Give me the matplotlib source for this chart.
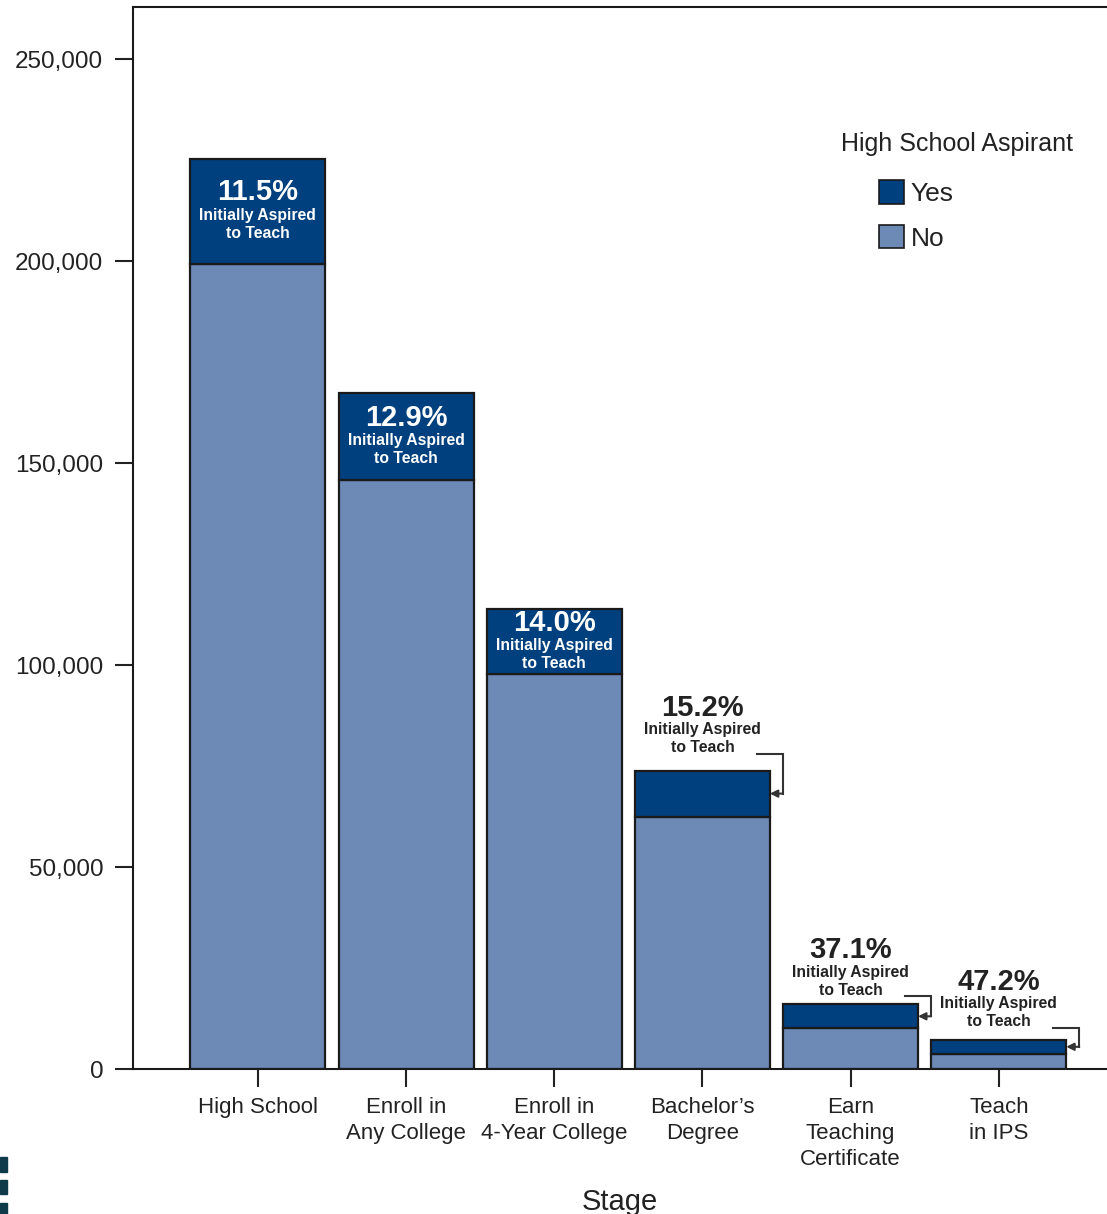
import numpy as np
import matplotlib
matplotlib.use("Agg")
import matplotlib.pyplot as plt
from matplotlib.patches import Patch, Rectangle

plt.rcParams['font.family'] = ['Liberation Sans', 'DejaVu Sans']

# -----------------------------
# Data
stages = ['High School', 'Enroll in\nAny College', 'Enroll in\n4-Year College',
          'Bachelor\u2019s\nDegree', 'Earn\nTeaching\nCertificate', 'Teach\nin IPS']
no_counts = [199400, 145800, 97700, 62500, 10100, 3800]    # did not aspire to teach
yes_counts = [26000, 21600, 16300, 11400, 5900, 3400]      # initially aspired to teach
pct_labels = ['11.5%', '12.9%', '14.0%', '15.2%', '37.1%', '47.2%']
y_ticks = [0, 50000, 100000, 150000, 200000, 250000]

# -----------------------------
# Styles
dark = '#00407e'
light = '#6d8ab7'
edge = '#1a1a1a'
txt = '#222222'
inside = [True, True, True, False, False, False]   # label inside the dark segment?
lift = [0, 0, 0, 63, 54, 58]                       # px above bar top for outside labels

W, H = 1107, 1214
fig = plt.figure(figsize=(W / 100, H / 100), dpi=100)
ax = fig.add_axes([133 / W, 145 / H, 974 / W, 1062 / H])

x = np.arange(len(stages))
bw = 0.91
ax.bar(x, no_counts, width=bw, color=light, edgecolor=edge, linewidth=1.6, zorder=2)
ax.bar(x, yes_counts, bottom=no_counts, width=bw, color=dark, edgecolor=edge,
       linewidth=1.6, zorder=2)

ax.set_xlim(-0.843, 5.73)
ax.set_ylim(0, 263000)

ax.set_yticks(y_ticks)
ax.set_yticklabels([f'{v:,}' for v in y_ticks])
ax.set_xticks(x)
ax.set_xticklabels(stages)
ax.tick_params(axis='y', length=13, width=1.5, pad=8.5, labelsize=17.5, colors=txt)
ax.tick_params(axis='x', length=13, width=1.5, pad=7, labelsize=16, colors=txt)
for lbl in ax.get_xticklabels():
    lbl.set_linespacing(1.33)
ax.set_xlabel('Stage', fontsize=21, color=txt, labelpad=13)

for s in ['left', 'bottom', 'top']:
    ax.spines[s].set_linewidth(1.5)
    ax.spines[s].set_color('#1a1a1a')
ax.spines['right'].set_visible(False)

# -----------------------------
# Percentage labels
to_data = ax.transData.inverted()
for i in range(len(stages)):
    top = no_counts[i] + yes_counts[i]
    mid = no_counts[i] + yes_counts[i] / 2
    if inside[i]:
        col = 'white'
        anchor = (i, mid)
        offs = [19, -4, -22]
    else:
        col = txt
        anchor = (i, top)
        offs = [lift[i], lift[i] - 22, lift[i] - 40]
    ax.annotate(pct_labels[i], xy=anchor, xytext=(0, offs[0]), textcoords='offset pixels',
                ha='center', va='center', fontsize=21, fontweight='bold', color=col)
    ax.annotate('Initially Aspired', xy=anchor, xytext=(0, offs[1]),
                textcoords='offset pixels', ha='center', va='center', fontsize=11.3,
                fontweight='bold', color=col)
    ax.annotate('to Teach', xy=anchor, xytext=(0, offs[2]), textcoords='offset pixels',
                ha='center', va='center', fontsize=11.3, fontweight='bold', color=col)

    if not inside[i]:
        # bracket arrow pointing at the dark segment
        ex, ym = ax.transData.transform((i + bw / 2, mid))
        _, yt = ax.transData.transform((i, top))
        yb = yt + lift[i] - 46
        pts = to_data.transform([(ex - 13, yb), (ex + 13, yb), (ex + 13, ym)])
        ax.plot(pts[:, 0], pts[:, 1], color='#333333', lw=1.5, zorder=3,
                solid_joinstyle='miter')
        ax.annotate('', xy=(i + bw / 2, mid), xytext=(13, 0), textcoords='offset pixels',
                    arrowprops=dict(arrowstyle='-|>', color='#333333', lw=1.5,
                                    shrinkA=0, shrinkB=0, mutation_scale=11))

# -----------------------------
# Legend
fig.text(957 / W, 1 - 144 / H, 'High School Aspirant', ha='center', va='center',
         fontsize=18, color=txt)
handles = [Patch(facecolor=dark, edgecolor=edge, linewidth=1.2, label='Yes'),
           Patch(facecolor=light, edgecolor=edge, linewidth=1.2, label='No')]
fig.legend(handles=handles, loc='upper left', bbox_to_anchor=(879 / W, 1 - 180 / H),
           bbox_transform=fig.transFigure, frameon=False, fontsize=19,
           handlelength=0.95, handleheight=1.0, handletextpad=0.25,
           labelspacing=0.72, borderpad=0, borderaxespad=0, labelcolor=txt)

# bits of a logo cut off at the left edge
for y0, y1 in [(1157, 1172), (1180, 1194), (1203, 1214)]:
    fig.patches.append(Rectangle((0, 1 - y1 / H), 7 / W, (y1 - y0) / H,
                                 transform=fig.transFigure, color='#0e3a4a'))

fig.savefig('out.png', dpi=100)
